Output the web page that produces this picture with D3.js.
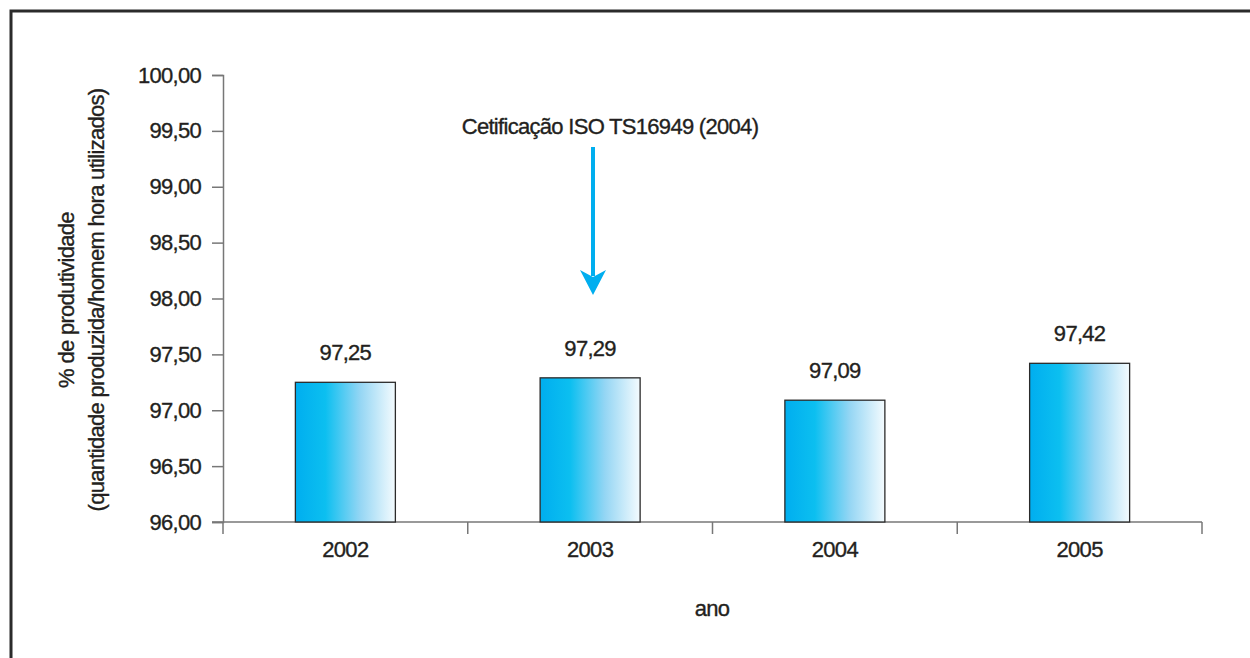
<!DOCTYPE html>
<html>
<head>
  <meta charset="utf-8">
  <script src="https://d3js.org/d3.v7.min.js"></script>
  <style>
    body { margin: 0; background: #fff; }
    text {
      font-family: "Liberation Sans Narrow", "Liberation Sans", Arial, sans-serif;
      font-size: 22px;
      letter-spacing: -0.7px;
      fill: #231f20;
      stroke: #231f20;
      stroke-width: 0.35px;
    }
  </style>
</head>
<body>
  <div id="chart"></div>

  <script>
    // chart data
    const years = ['2002', '2003', '2004', '2005'];
    const productivity = [97.25, 97.29, 97.09, 97.42];
    const yTicks = [96, 96.5, 97, 97.5, 98, 98.5, 99, 99.5, 100];
    const note = 'Cetificação ISO TS16949 (2004)';

    const width = 1250, height = 658;

    const svg = d3.select('#chart')
      .append('svg')
      .attr('width', width)
      .attr('height', height);

    // frame (top and left only)
    svg.append('path')
      .attr('d', `M11,${height} L11,11 L${width},11`)
      .attr('fill', 'none')
      .attr('stroke', '#2b2b2b')
      .attr('stroke-width', 3);

    // gradient for the bars
    const grad = svg.append('defs').append('linearGradient')
      .attr('id', 'barGrad')
      .attr('x1', '0%').attr('x2', '100%')
      .attr('y1', '0%').attr('y2', '0%');
    grad.append('stop').attr('offset', '0%').attr('stop-color', '#00aeef');
    grad.append('stop').attr('offset', '30%').attr('stop-color', '#0cbff0');
    grad.append('stop').attr('offset', '65%').attr('stop-color', '#95d6f4');
    grad.append('stop').attr('offset', '100%').attr('stop-color', '#f4fbfe');

    // scales
    const xScale = d3.scaleBand()
      .domain(years)
      .range([223, 1202])
      .padding(0);

    const yScale = d3.scaleLinear()
      .domain([96, 100])
      .range([522, 75]);

    const fmt = d => d3.format('.2f')(d).replace('.', ',');

    // y-axis
    const yAxis = svg.append('g')
      .attr('transform', 'translate(223, 0)')
      .call(d3.axisLeft(yScale).tickValues(yTicks).tickFormat(fmt).tickSize(11).tickPadding(11));
    yAxis.attr('font-family', null).attr('font-size', null);
    yAxis.select('.domain').attr('stroke', '#777').attr('stroke-width', 1.5);
    yAxis.selectAll('.tick line').attr('stroke', '#777').attr('stroke-width', 1.5);
    yAxis.selectAll('.tick text').attr('fill', '#231f20');

    // x-axis: baseline and boundary ticks
    const xAxis = svg.append('g');
    xAxis.append('line')
      .attr('x1', 212).attr('x2', 1202)
      .attr('y1', yScale(96)).attr('y2', yScale(96))
      .attr('stroke', '#777').attr('stroke-width', 1.5);
    const bounds = years.map(d => xScale(d)).concat([xScale.range()[1]]);
    xAxis.selectAll('.xtick')
      .data(bounds)
      .enter()
      .append('line')
      .attr('class', 'xtick')
      .attr('x1', d => d).attr('x2', d => d)
      .attr('y1', yScale(96)).attr('y2', yScale(96) + 12)
      .attr('stroke', '#777').attr('stroke-width', 1.5);
    xAxis.selectAll('.xlabel')
      .data(years)
      .enter()
      .append('text')
      .attr('class', 'xlabel')
      .attr('x', d => xScale(d) + xScale.bandwidth() / 2)
      .attr('y', 557)
      .attr('text-anchor', 'middle')
      .text(d => d);

    // bars
    const barWidth = 100;
    svg.selectAll('.bar')
      .data(years)
      .enter()
      .append('rect')
      .attr('class', 'bar')
      .attr('x', d => xScale(d) + xScale.bandwidth() / 2 - barWidth / 2)
      .attr('y', (d, i) => yScale(productivity[i]))
      .attr('width', barWidth)
      .attr('height', (d, i) => yScale(96) - yScale(productivity[i]))
      .attr('fill', 'url(#barGrad)')
      .attr('stroke', '#2b2b2b')
      .attr('stroke-width', 1.3);

    // value labels
    svg.selectAll('.value')
      .data(years)
      .enter()
      .append('text')
      .attr('class', 'value')
      .attr('x', d => xScale(d) + xScale.bandwidth() / 2)
      .attr('y', (d, i) => yScale(productivity[i]) - 22)
      .attr('text-anchor', 'middle')
      .text((d, i) => fmt(productivity[i]));

    // axis titles
    svg.append('text')
      .attr('x', 712)
      .attr('y', 616)
      .attr('text-anchor', 'middle')
      .text('ano');

    const yTitle = svg.append('text')
      .attr('transform', 'translate(74, 300) rotate(-90)')
      .attr('text-anchor', 'middle');
    yTitle.append('tspan').attr('x', 0).attr('dy', 0).text('% de produtividade');
    yTitle.append('tspan').attr('x', 0).attr('dy', 30).text('(quantidade produzida/homem hora utilizados)');

    // annotation with arrow
    const ax = 593;
    svg.append('text')
      .attr('x', 610)
      .attr('y', 134)
      .attr('text-anchor', 'middle')
      .text(note);
    svg.append('line')
      .attr('x1', ax).attr('x2', ax)
      .attr('y1', 147).attr('y2', 276)
      .attr('stroke', '#00aeef')
      .attr('stroke-width', 4);
    svg.append('path')
      .attr('d', `M${ax - 13},270 L${ax},295 L${ax + 13},270 L${ax},277 Z`)
      .attr('fill', '#00aeef');
  </script>
</body>
</html>
